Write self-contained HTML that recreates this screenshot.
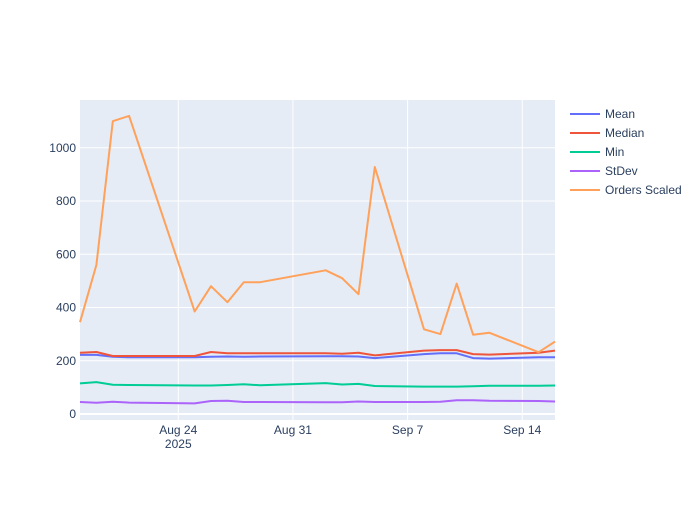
<!DOCTYPE html>
<html><head><meta charset="utf-8"><style>
body{margin:0;background:#fff;font-family:"Liberation Sans",sans-serif;}
svg text{font-family:"Liberation Sans",sans-serif;fill:#2a3f5f;font-size:12px;}
</style></head><body>
<svg id="chart" width="700" height="500">
<rect x="80" y="100" width="475" height="320" fill="#e5ecf6"/>
<g id="grid"></g><g id="series"></g><g id="axes"></g><g id="legend"></g>
</svg>
<script>
const dayOffsets=[0,1,2,3,7,8,9,10,11,15,16,17,18,21,22,23,24,25,28,29]; // days since Aug 18 2025
const meanVals=[222,222,215,213,213,215,216,215,216,217,217,216,210,225,228,228,210,208,213,213];
const medianVals=[230,233,218,218,218,233,228,228,228,228,226,230,220,238,240,240,225,223,230,238];
const minVals=[115,120,110,109,107,107,109,112,108,116,111,113,105,103,103,103,104,106,106,107];
const stdevVals=[45,42,46,43,40,49,50,45,45,44,44,47,45,45,46,52,52,50,49,47];
const ordersVals=[345,560,1100,1120,385,480,420,495,495,540,510,450,928,318,300,490,298,305,232,272];
const yTicks=[0,200,400,600,800,1000];
const xTickDays=[6,13,20,27];
const xTickLabels=["Aug 24","Aug 31","Sep 7","Sep 14"];
const seriesNames=["Mean","Median","Min","StDev","Orders Scaled"];
const colors=["#636efa","#EF553B","#00cc96","#ab63fa","#FFA15A"];
const NS="http://www.w3.org/2000/svg";
function xs(d){return 80+d*16.38;}
function ys(v){return 414-v*0.2662;}
function mk(tag,attrs,parent){const e=document.createElementNS(NS,tag);for(const k in attrs)e.setAttribute(k,attrs[k]);parent.appendChild(e);return e;}
const grid=document.getElementById('grid'),axes=document.getElementById('axes'),ser=document.getElementById('series'),leg=document.getElementById('legend');
yTicks.forEach(v=>{
  const l=mk('line',{x1:80,x2:555,y1:ys(v),y2:ys(v),stroke:v===0?'#fff':'#fff','stroke-width':v===0?2:1},grid);
  
  
  const t=mk('text',{x:76,y:ys(v)+4,'text-anchor':'end'},axes);t.textContent=v;
  
  
});
xTickDays.forEach((d,i)=>{
  const l=mk('line',{x1:xs(d),x2:xs(d),y1:100,y2:420,stroke:'#fff','stroke-width':1},grid);
  
  
  const t=mk('text',{x:xs(d),y:434,'text-anchor':'middle'},axes);t.textContent=xTickLabels[i];
  
  
});
const yr=mk('text',{x:xs(6),y:448,'text-anchor':'middle'},axes);yr.textContent="2025";


[meanVals,medianVals,minVals,stdevVals,ordersVals].forEach((vals,i)=>{
  const pts=vals.map((v,j)=>xs(dayOffsets[j]).toFixed(1)+','+ys(v).toFixed(1)).join(' ');
  const p=mk('polyline',{points:pts,fill:'none',stroke:colors[i],'stroke-width':2,'stroke-linejoin':'round'},ser);
  
  
  const y=114+i*19;
  const g=mk('g',{},leg);
  
  
  mk('line',{x1:570,x2:600,y1:y,y2:y,stroke:colors[i],'stroke-width':2},g);
  const t=mk('text',{x:605,y:y+4},g);t.textContent=seriesNames[i];
});
</script>
</body></html>
